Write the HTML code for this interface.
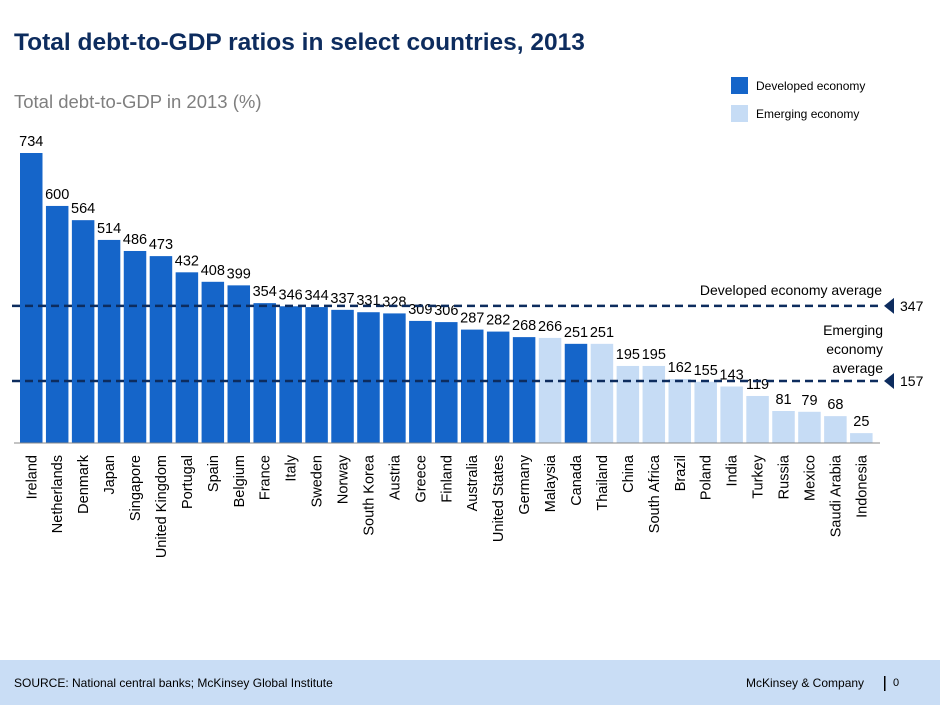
<!DOCTYPE html>
<html><head><meta charset="utf-8"><style>
body{margin:0;width:940px;height:705px;background:#fff;font-family:"Liberation Sans",Arial,sans-serif;position:relative;overflow:hidden}
</style></head><body>
<svg width="940" height="705" style="position:absolute;left:0;top:0">
<text x="14" y="50" font-size="24.5" font-weight="bold" fill="#0d2c5e">Total debt-to-GDP  ratios in select countries, 2013</text>
<text x="14" y="108" font-size="18.5" fill="#7f7f7f">Total debt-to-GDP in 2013 (%)</text>
<rect x="731" y="77" width="17" height="17" fill="#1565c9"/>
<text x="756" y="90" font-size="12" fill="#000">Developed  economy</text>
<rect x="731" y="105" width="17" height="17" fill="#c6dcf5"/>
<text x="756" y="118" font-size="12" fill="#000">Emerging economy</text>
<g id="plot"></g>
<rect x="0" y="660" width="940" height="45" fill="#c9ddf5"/>
<text x="14" y="687" font-size="12" fill="#000">SOURCE: National central banks; McKinsey Global Institute</text>
<text x="746" y="687" font-size="12" fill="#000">McKinsey &amp; Company</text>
<rect x="884" y="676" width="1.5" height="15" fill="#000"/>
<text x="893" y="686" font-size="11" fill="#000">0</text>
</svg>
<script>
const categories=["Ireland","Netherlands","Denmark","Japan","Singapore","United Kingdom","Portugal","Spain","Belgium","France","Italy","Sweden","Norway","South Korea","Austria","Greece","Finland","Australia","United States","Germany","Malaysia","Canada","Thailand","China","South Africa","Brazil","Poland","India","Turkey","Russia","Mexico","Saudi Arabia","Indonesia"];
const values=[734,600,564,514,486,473,432,408,399,354,346,344,337,331,328,309,306,287,282,268,266,251,251,195,195,162,155,143,119,81,79,68,25];
const groups=["D","D","D","D","D","D","D","D","D","D","D","D","D","D","D","D","D","D","D","D","E","D","E","E","E","E","E","E","E","E","E","E","E"];
const averages=[347,157];
const averageLabels=["Developed economy average","Emerging economy average"];
const NS="http://www.w3.org/2000/svg";
const g=document.getElementById('plot');
const base=443, scale=290/734, x0=20, pitch=25.94, bw=22.5;
const y=v=>base-v*scale;
const x=i=>x0+i*pitch;
function mk(t,a){const e=document.createElementNS(NS,t);for(const k in a)e.setAttribute(k,a[k]);g.appendChild(e);return e;}
values.forEach((v,i)=>{
 const r=mk('rect',{x:x(i),y:y(v),width:bw,height:base-y(v),fill:groups[i]=="D"?"#1565c9":"#c6dcf5"});
 
 
 const t=mk('text',{x:x(i)+bw/2,y:y(v)-7,'font-size':14.5,'text-anchor':'middle',fill:'#000'});
 t.textContent=v;
 
 
 const c=mk('text',{transform:`translate(${x(i)+bw/2+5},455) rotate(-90)`,'font-size':14.5,'text-anchor':'end',fill:'#000'});
 c.textContent=categories[i];
 
 
});
const ax=mk('line',{x1:14,x2:880,y1:base,y2:base,stroke:'#888','stroke-width':1});


averages.forEach((a,k)=>{
 const yy=y(a);
 const l=mk('line',{x1:12,x2:882,y1:yy,y2:yy,stroke:'#0d2c5e','stroke-width':2.5,'stroke-dasharray':'8,5'});
 
 
 const p=mk('polygon',{points:`884,${yy} 894,${yy-8} 894,${yy+8}`,fill:'#0d2c5e'});
 
 
 const t=mk('text',{x:900,y:yy+5,'font-size':14,fill:'#000'});
 t.textContent=a;
 
 
});
let t1=mk('text',{x:882,y:y(averages[0])-11,'font-size':14,'text-anchor':'end',fill:'#000'});
t1.textContent=averageLabels[0];


["Emerging","economy","average"].forEach((w,i)=>{
 const t=mk('text',{x:883,y:y(averages[1])-46+i*19,'font-size':14,'text-anchor':'end',fill:'#000'});
 t.textContent=w;
 
 
});
</script>
</body></html>
